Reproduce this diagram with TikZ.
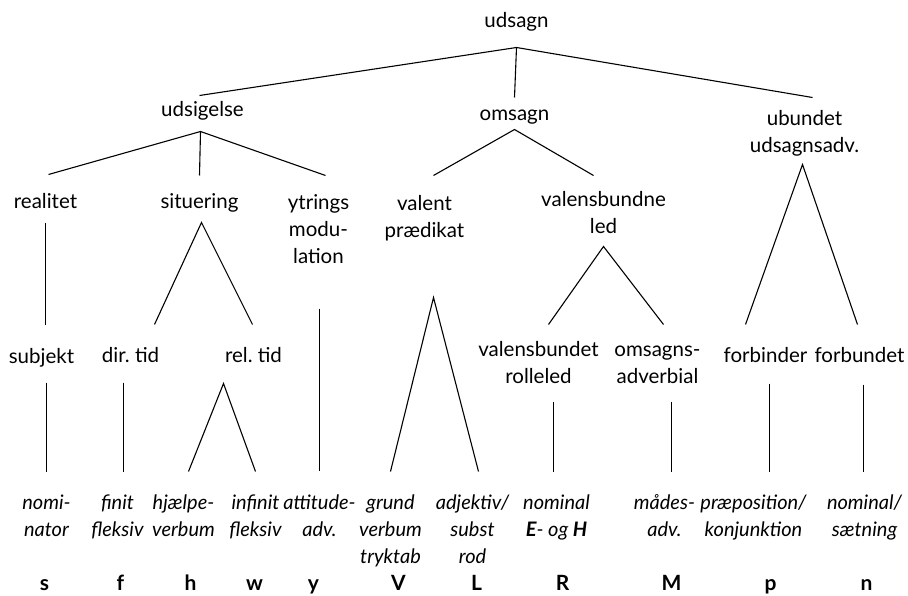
\documentclass[tikz,border=0pt]{standalone}
\usepackage{fontspec}
\setmainfont{Lato}
\frenchspacing
\begin{document}
\begin{tikzpicture}[
        x=1pt, y=-1pt,
        every node/.style={font=\fontsize{20.5}{27}\selectfont, align=center, inner sep=0pt, anchor=base},
        leaf/.style={font=\fontsize{20}{27}\selectfont\itshape},
        code/.style={font=\fontsize{21}{27}\selectfont\bfseries},
        branch/.style={line width=1.1pt}
    ]
    \useasboundingbox (-0.5,-0.5) rectangle (907.5,595.5);
    % Nodes (placed at the baseline of their last line)
    \node (udsagn) at (516,27) {udsagn};

    \node (udsigelse) at (202,116) {udsigelse};
    \node (omsagn) at (514,120) {omsagn};
    \node (ubundet) at (804,152) {ubundet\\udsagnsadv.};

    \node (realitet) at (45,208) {realitet};
    \node (situering) at (199,208) {situering};
    \node (ytrings) at (318,263) {ytrings\\modu-\\lation};
    \node (valent) at (424,237) {valent\\prædikat};
    \node (valensbundne) at (603,233) {valensbundne\\led};

    \node (subjekt) at (41,363) {subjekt};
    \node (dirtid) at (130,362) {dir. tid};
    \node (reltid) at (253,362) {rel. tid};
    \node (rolleled) at (538,383) {valensbundet\\rolleled};
    \node (omsadv) at (657,383) {omsagns-\\adverbial};
    \node (forbinder) at (765,362) {forbinder};
    \node (forbundet) at (859,362) {forbundet};

    \node[leaf] (nominator) at (46,536) {nomi-\\nator};
    \node[leaf] (finit) at (117,536) {finit\\fleksiv};
    \node[leaf] (hjaelpe) at (183,536) {hjælpe-\\verbum};
    \node[leaf] (infinit) at (255,536) {infinit\\fleksiv};
    \node[leaf] (attitude) at (319,536) {attitude-\\adv.};
    \node[leaf] (grund) at (390,563) {grund\\verbum\\tryktab};
    \node[leaf] (adjektiv) at (472,563) {adjektiv/\\subst\\rod};
    \node[leaf] (nominal) at (556,536) {nominal\\\textbf{E}- og \textbf{H}};
    \node[leaf] (maades) at (664,536) {mådes-\\adv.};
    \node[leaf] (praep) at (753,536) {præposition/\\konjunktion};
    \node[leaf] (saetning) at (864,536) {nominal/\\sætning};

    \node[code] (s) at (44,590) {s};
    \node[code] (f) at (120,590) {f};
    \node[code] (h) at (190,590) {h};
    \node[code] (w) at (254,590) {w};
    \node[code] (y) at (313,590) {y};
    \node[code] (V) at (398,590) {V};
    \node[code] (L) at (476,590) {L};
    \node[code] (R) at (562,590) {R};
    \node[code] (M) at (671,590) {M};
    \node[code] (p) at (770,590) {p};
    \node[code] (n) at (866,590) {n};

    % Lines
    \draw[branch] ([xshift=-3pt,yshift=21pt]udsigelse.base) -- ([yshift=-20pt]udsagn.base) -- ([xshift=8pt,yshift=55pt]ubundet.base);
    \draw[branch] ([yshift=-20pt]udsagn.base) -- ([yshift=23pt]omsagn.base);

    \draw[branch] ([xshift=3pt,yshift=34pt]realitet.base) -- ([xshift=-2pt,yshift=-15pt]udsigelse.base) -- ([xshift=7pt,yshift=88pt]ytrings.base);
    \draw[branch] ([xshift=-2pt,yshift=-15pt]udsigelse.base) -- ([yshift=33pt]situering.base);

    \draw[branch] ([xshift=9pt,yshift=62pt]valent.base) -- ([yshift=-9pt]omsagn.base) -- ([xshift=-10pt,yshift=58pt]valensbundne.base);

    \draw[branch] ([xshift=-20pt,yshift=38pt]forbinder.base) -- ([xshift=-2pt,yshift=-12pt]ubundet.base) -- ([xshift=-2pt,yshift=38pt]forbundet.base);

    \draw[branch] ([yshift=-15pt]realitet.base) -- ([xshift=4pt,yshift=39pt]subjekt.base);
    \draw[branch] ([xshift=24pt,yshift=38pt]dirtid.base) -- ([xshift=2pt,yshift=-14pt]situering.base) -- ([xshift=-1pt,yshift=38pt]reltid.base);
    \draw[branch] ([xshift=1pt,yshift=-45pt]ytrings.base) -- ([yshift=66pt]attitude.base);
    \draw[branch] ([yshift=92pt]grund.base) -- ([xshift=9pt,yshift=-60pt]valent.base) -- ([xshift=6pt,yshift=92pt]adjektiv.base);
    \draw[branch] ([xshift=10pt,yshift=59pt]rolleled.base) -- ([yshift=-13pt]valensbundne.base) -- ([xshift=6pt,yshift=59pt]omsadv.base);

    \draw[branch] ([xshift=5pt,yshift=-19pt]subjekt.base) -- ([yshift=65pt]nominator.base);
    \draw[branch] ([xshift=-7pt,yshift=-20pt]dirtid.base) -- ([xshift=6pt,yshift=65pt]finit.base);
    \draw[branch] ([xshift=5pt,yshift=65pt]hjaelpe.base) -- ([xshift=-30pt,yshift=-21pt]reltid.base) -- ([yshift=65pt]infinit.base);
    \draw[branch] ([xshift=15pt,yshift=-18pt]rolleled.base) -- ([xshift=-3pt,yshift=65pt]nominal.base);
    \draw[branch] ([xshift=14pt,yshift=-18pt]omsadv.base) -- ([xshift=7pt,yshift=65pt]maades.base);
    \draw[branch] ([xshift=4pt,yshift=-21pt]forbinder.base) -- ([xshift=16pt,yshift=65pt]praep.base);
    \draw[branch] ([xshift=4pt,yshift=-22pt]forbundet.base) -- ([xshift=-1pt,yshift=65pt]saetning.base);
\end{tikzpicture}
\end{document}
